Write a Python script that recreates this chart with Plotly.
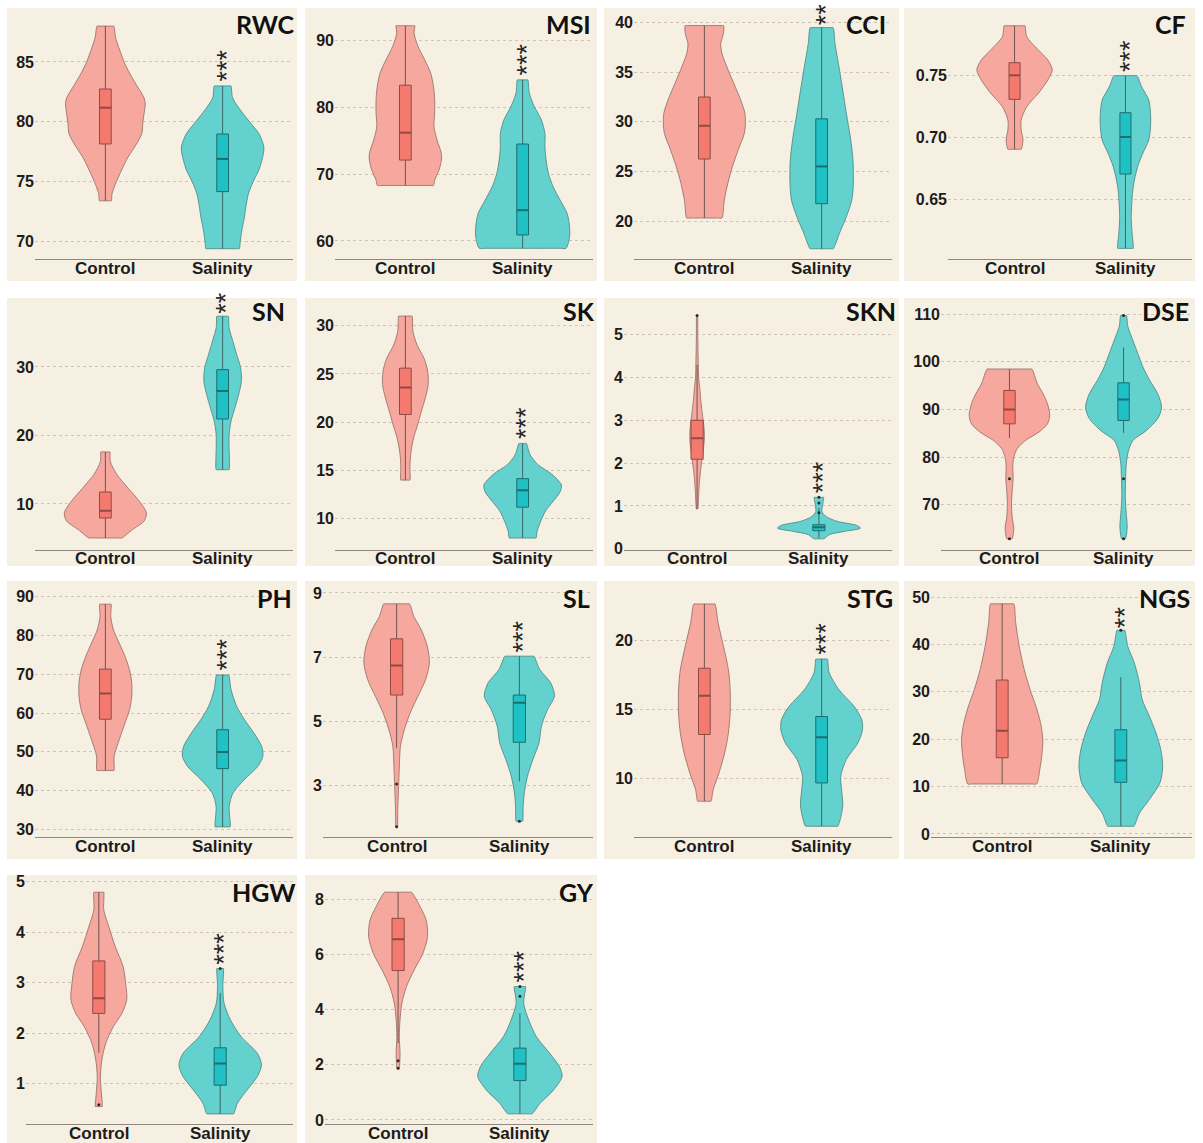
import plotly.graph_objects as go

# ---------------- data ----------------
PANELS = ["RWC", "MSI", "CCI", "CF", "SN", "SK", "SKN", "DSE", "PH", "SL", "STG", "NGS", "HGW", "GY"]
GROUPS = ["Control", "Salinity"]
STARS = [3, 3, 2, 3, 2, 3, 3, 0, 3, 3, 3, 2, 3, 3]

# violin outlines: value levels (top -> bottom) and half-widths (category units)
RWC_C_Y = [88.0, 87, 86, 85, 84, 83, 82, 81.5, 81, 80, 79, 78, 77, 76, 75, 74, 73.4]
RWC_C_W = [0.071, 0.088, 0.122, 0.16, 0.21, 0.27, 0.33, 0.34, 0.335, 0.32, 0.31, 0.256, 0.19, 0.14, 0.094, 0.057, 0.051]
RWC_S_Y = [83.0, 82, 81, 80, 79, 78, 77.5, 77, 76, 75, 74, 73, 72, 71, 70, 69.4]
RWC_S_W = [0.071, 0.085, 0.15, 0.23, 0.31, 0.35, 0.35, 0.34, 0.31, 0.26, 0.22, 0.2, 0.185, 0.165, 0.15, 0.142]

MSI_C_Y = [92.2, 91.1, 89.1, 87.1, 85.1, 83.1, 81.1, 79.1, 77.1, 75.1, 73.1, 72.1, 70.6, 69.1, 68.3]
MSI_C_W = [0.08, 0.074, 0.108, 0.165, 0.216, 0.24, 0.25, 0.25, 0.244, 0.27, 0.307, 0.307, 0.287, 0.25, 0.24]
MSI_S_Y = [84.1, 82.1, 80.1, 78.1, 76.1, 74.1, 72.1, 70.1, 68.1, 66.1, 64.1, 62.1, 60.6, 58.9]
MSI_S_W = [0.045, 0.057, 0.10, 0.16, 0.19, 0.19, 0.2, 0.22, 0.26, 0.32, 0.38, 0.40, 0.40, 0.37]

CCI_C_Y = [39.7, 38.9, 37.9, 36.9, 35.6, 33.9, 32.2, 30.9, 29.8, 28.8, 27.2, 25.5, 23.8, 22.1, 20.3]
CCI_C_W = [0.163, 0.163, 0.14, 0.15, 0.19, 0.25, 0.31, 0.345, 0.35, 0.34, 0.29, 0.24, 0.2, 0.17, 0.15]
CCI_S_Y = [39.5, 37.9, 35.6, 33.2, 30.9, 28.5, 26.2, 23.8, 22.1, 20.4, 18.8, 17.2]
CCI_S_W = [0.098, 0.114, 0.147, 0.18, 0.21, 0.244, 0.267, 0.27, 0.257, 0.21, 0.153, 0.098]

CF_C_Y = [0.7905, 0.7816, 0.7708, 0.7627, 0.7546, 0.7465, 0.7357, 0.7249, 0.7141, 0.706, 0.6978, 0.6903]
CF_C_W = [0.094, 0.11, 0.215, 0.30, 0.34, 0.30, 0.215, 0.11, 0.06, 0.06, 0.076, 0.06]
CF_S_Y = [0.75, 0.741, 0.7303, 0.7195, 0.7086, 0.6978, 0.687, 0.6762, 0.66, 0.6357, 0.6222, 0.61]
CF_S_W = [0.104, 0.146, 0.21, 0.226, 0.226, 0.21, 0.156, 0.11, 0.07, 0.052, 0.06, 0.07]

SN_C_Y = [17.6, 16.2, 14.3, 12.3, 10.4, 8.7, 7.5, 6.25, 5.04]
SN_C_W = [0.039, 0.042, 0.098, 0.195, 0.29, 0.35, 0.33, 0.23, 0.14]
SN_S_Y = [37.4, 35.7, 33.7, 31.8, 29.9, 27.9, 26.0, 24.0, 22.1, 20.1, 18.2, 15.0]
SN_S_W = [0.049, 0.055, 0.088, 0.12, 0.153, 0.16, 0.137, 0.104, 0.072, 0.055, 0.055, 0.055]

SK_C_Y = [31.0, 29.4, 28.0, 26.6, 25.3, 23.9, 22.5, 21.1, 19.7, 18.4, 17.0, 15.6, 14.0]
SK_C_W = [0.057, 0.065, 0.10, 0.16, 0.19, 0.195, 0.17, 0.136, 0.104, 0.071, 0.049, 0.039, 0.039]
SK_S_Y = [17.8, 16.6, 15.6, 14.6, 13.5, 12.8, 11.8, 10.8, 9.7, 8.7, 8.0]
SK_S_W = [0.032, 0.065, 0.13, 0.25, 0.33, 0.32, 0.26, 0.195, 0.153, 0.123, 0.114]

SKN_C_Y = [5.45, 4.92, 4.3, 3.99, 3.75, 3.44, 3.13, 2.82, 2.59, 2.35, 2.04, 1.73, 1.42, 0.93]
SKN_C_W = [0.004, 0.006, 0.01, 0.013, 0.022, 0.031, 0.044, 0.057, 0.06, 0.053, 0.038, 0.025, 0.016, 0.006]
SKN_S_Y = [1.2, 1.03, 0.87, 0.755, 0.64, 0.545, 0.48, 0.405, 0.33, 0.23]
SKN_S_W = [0.039, 0.031, 0.025, 0.057, 0.15, 0.31, 0.34, 0.21, 0.088, 0.04]

DSE_C_Y = [98.5, 95.4, 93.3, 91.2, 88.8, 87.0, 85.3, 83.5, 81.8, 80.0, 77.9, 75.5, 73.0, 70.2, 67.4, 65.0, 62.9]
DSE_C_W = [0.195, 0.245, 0.295, 0.333, 0.353, 0.333, 0.26, 0.14, 0.068, 0.038, 0.029, 0.032, 0.024, 0.018, 0.024, 0.038, 0.024]
DSE_S_Y = [109.7, 107.4, 104.5, 101.7, 98.9, 96.1, 93.3, 90.5, 88.1, 85.6, 83.5, 81.4, 78.6, 75.1, 71.6, 68.1, 65.3, 62.9]
DSE_S_W = [0.026, 0.038, 0.082, 0.126, 0.17, 0.23, 0.30, 0.333, 0.30, 0.2, 0.082, 0.044, 0.024, 0.018, 0.015, 0.024, 0.032, 0.018]

PH_C_Y = [88.0, 84.8, 81.4, 78.0, 74.6, 71.1, 67.7, 64.3, 60.8, 57.4, 53.1, 48.9, 45.2]
PH_C_W = [0.049, 0.046, 0.069, 0.118, 0.167, 0.206, 0.225, 0.225, 0.206, 0.167, 0.118, 0.075, 0.073]
PH_S_Y = [69.8, 66.0, 61.7, 58.3, 54.8, 51.4, 48.9, 46.3, 42.9, 39.4, 36.0, 30.7]
PH_S_W = [0.052, 0.072, 0.12, 0.186, 0.268, 0.333, 0.343, 0.30, 0.186, 0.088, 0.056, 0.064]

SL_C_Y = [8.66, 8.27, 7.86, 7.34, 6.82, 6.3, 5.78, 5.26, 4.74, 4.23, 3.6, 2.98, 2.36, 1.71]
SL_C_W = [0.105, 0.14, 0.2, 0.25, 0.267, 0.236, 0.173, 0.11, 0.063, 0.031, 0.022, 0.016, 0.01, 0.006]
SL_S_Y = [7.03, 6.61, 6.2, 5.78, 5.37, 4.85, 4.33, 3.81, 3.29, 2.77, 2.36, 1.89]
SL_S_W = [0.117, 0.167, 0.255, 0.286, 0.23, 0.18, 0.16, 0.11, 0.066, 0.04, 0.031, 0.027]

STG_C_Y = [22.66, 21.3, 19.6, 17.9, 16.45, 14.76, 13.3, 11.86, 10.4, 9.2, 8.36]
STG_C_W = [0.09, 0.117, 0.163, 0.205, 0.22, 0.22, 0.205, 0.173, 0.124, 0.075, 0.057]
STG_S_Y = [18.67, 17.66, 16.45, 15.24, 14.28, 13.55, 12.6, 11.38, 10.17, 9.2, 8.0, 6.55]
STG_S_W = [0.049, 0.065, 0.147, 0.277, 0.342, 0.348, 0.31, 0.21, 0.163, 0.17, 0.18, 0.137]

NGS_C_Y = [48.6, 44.6, 39.6, 34.7, 30.5, 27.0, 23.5, 19.9, 16.4, 13.6, 10.56]
NGS_C_W = [0.098, 0.114, 0.144, 0.186, 0.235, 0.284, 0.323, 0.343, 0.333, 0.317, 0.29]
NGS_S_Y = [43.0, 39.6, 36.1, 31.9, 28.4, 24.9, 21.3, 17.8, 14.3, 10.8, 7.25, 4.4, 1.62]
NGS_S_W = [0.033, 0.059, 0.114, 0.157, 0.18, 0.24, 0.297, 0.337, 0.353, 0.33, 0.24, 0.157, 0.11]

HGW_C_Y = [4.79, 4.44, 4.11, 3.71, 3.32, 2.92, 2.66, 2.39, 2.13, 1.8, 1.47, 1.14, 0.87, 0.545]
HGW_C_W = [0.041, 0.041, 0.082, 0.136, 0.2, 0.224, 0.23, 0.19, 0.12, 0.057, 0.025, 0.013, 0.019, 0.028]
HGW_S_Y = [3.28, 2.92, 2.59, 2.26, 1.93, 1.6, 1.37, 1.14, 0.87, 0.61, 0.4]
HGW_S_W = [0.027, 0.022, 0.032, 0.085, 0.173, 0.306, 0.34, 0.306, 0.22, 0.142, 0.11]

GY_C_Y = [8.28, 7.76, 7.27, 6.67, 6.06, 5.45, 4.85, 4.24, 3.64, 3.03, 2.42, 1.88]
GY_C_W = [0.11, 0.18, 0.23, 0.242, 0.204, 0.132, 0.069, 0.031, 0.016, 0.01, 0.016, 0.01]
GY_S_Y = [4.85, 4.24, 3.64, 3.03, 2.42, 1.94, 1.58, 1.09, 0.61, 0.22]
GY_S_W = [0.047, 0.031, 0.072, 0.135, 0.245, 0.324, 0.346, 0.277, 0.167, 0.1]

# box statistics per panel (order of PANELS)
CTRL_Q1 = [78.15, 72.1, 26.25, 0.7308, 7.96, 20.8, 2.09, 87.0, 58.4, 5.82, 13.2, 16.1, 2.39, 5.43]
CTRL_MED = [81.18, 76.2, 29.6, 0.7503, 9.03, 23.6, 2.58, 90.0, 65.0, 6.74, 16.0, 21.8, 2.69, 6.57]
CTRL_Q3 = [82.74, 83.3, 32.5, 0.7605, 11.75, 25.6, 3.0, 94.0, 71.3, 7.57, 18.0, 32.5, 3.43, 7.33]
CTRL_LO = [73.4, 68.3, 20.3, 0.6903, 5.04, 14.0, 0.93, 84.0, 45.2, 4.17, 8.36, 10.56, 1.61, 2.79]
CTRL_HI = [88.0, 92.2, 39.7, 0.7905, 17.6, 31.0, 4.3, 98.5, 88.0, 8.66, 22.66, 48.6, 4.79, 8.28]
CTRL_OUT = [[], [], [], [], [], [], [5.45], [75.5, 62.9], [], [3.05, 1.72], [], [], [0.58], [2.15, 1.88]]

SAL_Q1 = [74.17, 60.9, 21.75, 0.6703, 22.4, 11.2, 0.42, 87.7, 45.7, 4.35, 9.69, 10.9, 0.97, 1.43]
SAL_MED = [76.9, 64.6, 25.5, 0.7003, 26.5, 12.94, 0.5, 92.1, 50.0, 5.58, 13.0, 15.5, 1.40, 2.04]
SAL_Q3 = [78.98, 74.5, 30.3, 0.72, 29.6, 14.15, 0.56, 95.6, 55.7, 5.82, 14.5, 22.0, 1.71, 2.61]
SAL_LO = [69.4, 58.9, 17.2, 0.61, 15.0, 8.0, 0.25, 85.1, 30.7, 3.13, 6.55, 1.62, 0.4, 0.22]
SAL_HI = [83.0, 84.1, 39.5, 0.75, 37.4, 17.8, 0.95, 103.0, 69.8, 7.03, 18.67, 33.1, 2.79, 3.88]
SAL_OUT = [[], [], [], [], [], [], [1.2, 1.07, 0.84], [109.7, 75.5, 62.9], [], [1.89], [], [43.0], [3.28], [4.5, 4.85]]

# y-axis ticks and ranges per panel
Y_TICKS = [[70, 75, 80, 85], [60, 70, 80, 90], [20, 25, 30, 35, 40], [0.65, 0.70, 0.75],
           [10, 20, 30], [10, 15, 20, 25, 30], [0, 1, 2, 3, 4, 5], [70, 80, 90, 100, 110],
           [30, 40, 50, 60, 70, 80, 90], [3, 5, 7, 9], [10, 15, 20], [0, 10, 20, 30, 40, 50],
           [1, 2, 3, 4, 5], [0, 2, 4, 6, 8]]
Y_RANGES = [[68.54, 89.09], [57.3, 94.1], [16.17, 40.97], [0.6014, 0.8008],
            [3.33, 40.2], [6.79, 32.97], [-0.023, 5.88], [60.6, 113.6],
            [28.03, 93.7], [1.39, 9.34], [5.75, 24.25], [-0.7, 53.2],
            [0.195, 5.21], [-0.16, 9.05]]

PROFILES = {n: (globals()[n + "_C_Y"], globals()[n + "_C_W"], globals()[n + "_S_Y"], globals()[n + "_S_W"])
            for n in PANELS}

# ---------------- layout geometry (pixels) ----------------
W, H = 1203, 1143
COL_L = [7, 305, 604, 904]
COL_R = [297, 597, 899, 1195]
ROW_T = [8, 298, 581, 875]
ROW_B = [281, 566, 859, 1143]
PLOT_L = [35, 335, 634, 948, 35, 335, 624, 941, 35, 323, 634, 931, 26, 325]
PLOT_R = [293, 593, 892, 1192]
PLOT_T = [13, 297, 582, 871]
PLOT_B = [259, 549.7, 837.3, 1124.3]
TITLE_R = [297, 593, 888, 1188, 287, 597, 898, 1191, 294, 592, 895, 1192, 298, 596]
TITLE_Y = [24, 311, 598, 892]

BG = "#F6F0E3"
C_FILL = ["#F6A89E", "#63D2CF"]
C_BOX = ["#F47A70", "#1FC1C5"]
C_BOXLINE = ["#8E4B45", "#1C6E70"]
C_WHISK = ["#6e5550", "#3b6666"]
C_OUTLINE = ["rgba(150,112,102,0.85)", "rgba(80,135,130,0.85)"]
TICKFONT = dict(family="Liberation Sans, Arial, sans-serif", size=16, color="#1c1c1c", weight="bold")
CATFONT = dict(family="Liberation Sans, Arial, sans-serif", size=17, color="#1c1c1c", weight="bold")
TITLEFONT = dict(family="Lato, Open Sans, sans-serif", size=25, color="#111111", weight="bold")
STARFONT = dict(family="Liberation Sans, Arial", size=27, color="#262626")
BOXW = 0.1


def px2x(p):
    return p / W


def py2y(p):
    return 1 - p / H


def outline(center, ys, ws):
    """Closed violin outline from the read profile (near-duplicate end points keep flat ends crisp)."""
    et, eb = ws[0] * 0.12, ws[-1] * 0.12
    xs = [center + w for w in ws]
    yy = list(ys)
    xs += [center + ws[-1] - eb, center - ws[-1] + eb]
    yy += [ys[-1], ys[-1]]
    xs += [center - w for w in ws[::-1]]
    yy += list(ys[::-1])
    xs += [center - ws[0] + et, center + ws[0] - et, center + ws[0]]
    yy += [ys[0], ys[0], ys[0]]
    return xs, yy


fig = go.Figure()
shapes = []
annotations = []
layout_axes = {}

for i, name in enumerate(PANELS):
    r, c = divmod(i, 4)
    n = i + 1
    xa = "x" if n == 1 else f"x{n}"
    ya = "y" if n == 1 else f"y{n}"
    xkey = "xaxis" if n == 1 else f"xaxis{n}"
    ykey = "yaxis" if n == 1 else f"yaxis{n}"

    # panel background
    shapes.append(dict(type="rect", xref="paper", yref="paper", layer="below",
                       x0=px2x(COL_L[c]), x1=px2x(COL_R[c]), y0=py2y(ROW_B[r]), y1=py2y(ROW_T[r]),
                       fillcolor=BG, line=dict(width=0)))

    layout_axes[xkey] = dict(domain=[px2x(PLOT_L[i]), px2x(PLOT_R[c])], range=[-0.6, 1.6],
                             tickmode="array", tickvals=[0, 1], showticklabels=False, ticks="",
                             showgrid=False, zeroline=False, showline=True, linecolor="#8d8780",
                             linewidth=1, anchor=ya, fixedrange=True)
    yax = dict(domain=[py2y(PLOT_B[r]), py2y(PLOT_T[r])], range=Y_RANGES[i],
               tickmode="array", tickvals=Y_TICKS[i], ticks="", showgrid=True,
               gridcolor="#cdc6b8", griddash="dot", gridwidth=1, zeroline=False,
               showline=False, tickfont=TICKFONT, anchor=xa, fixedrange=True)
    if name == "CF":
        yax["tickformat"] = ".2f"
    layout_axes[ykey] = yax

    # category labels under the axis line
    for g, lab in enumerate(GROUPS):
        annotations.append(dict(x=g, xref=xa, y=py2y(PLOT_B[r] + 9), yref="paper", text=lab,
                                showarrow=False, xanchor="center", yanchor="middle", font=CATFONT))

    cy, cw, sy, sw = PROFILES[name]
    prof = [(cy, cw), (sy, sw)]
    q1 = [CTRL_Q1[i], SAL_Q1[i]]
    med = [CTRL_MED[i], SAL_MED[i]]
    q3 = [CTRL_Q3[i], SAL_Q3[i]]
    lo = [CTRL_LO[i], SAL_LO[i]]
    hi = [CTRL_HI[i], SAL_HI[i]]
    outs = [CTRL_OUT[i], SAL_OUT[i]]

    for g in range(2):
        ys, ws = prof[g]
        xs, yy = outline(g, ys, ws)
        common = dict(xaxis=xa, yaxis=ya, hoverinfo="skip", showlegend=False)
        # violin body
        fig.add_trace(go.Scatter(x=xs, y=yy, mode="lines", fill="toself", fillcolor=C_FILL[g],
                                 line=dict(color=C_OUTLINE[g], width=1, shape="spline", smoothing=0.8),
                                 **common))
        # whisker (min..max)
        fig.add_trace(go.Scatter(x=[g, g], y=[lo[g], hi[g]], mode="lines",
                                 line=dict(color=C_WHISK[g], width=1), **common))
        # interquartile box
        bx = [g - BOXW / 2, g + BOXW / 2, g + BOXW / 2, g - BOXW / 2, g - BOXW / 2]
        by = [q1[g], q1[g], q3[g], q3[g], q1[g]]
        fig.add_trace(go.Scatter(x=bx, y=by, mode="lines", fill="toself", fillcolor=C_BOX[g],
                                 line=dict(color=C_BOXLINE[g], width=1), **common))
        # median
        fig.add_trace(go.Scatter(x=[g - BOXW / 2, g + BOXW / 2], y=[med[g], med[g]], mode="lines",
                                 line=dict(color=C_BOXLINE[g], width=2), **common))
        if outs[g]:
            fig.add_trace(go.Scatter(x=[g] * len(outs[g]), y=outs[g], mode="markers",
                                     marker=dict(color="#2a2a2a", size=3), **common))

    # significance stars above the Salinity violin (rotated text, stacked vertically)
    if STARS[i]:
        annotations.append(dict(x=1, y=max(sy), xref=xa, yref=ya, text="*" * STARS[i],
                                textangle=-90, showarrow=False, xanchor="center", yanchor="bottom",
                                xshift=4, yshift=1 if STARS[i] == 2 else 3, borderpad=0,
                                font=STARFONT))

    # panel title
    annotations.append(dict(x=px2x(TITLE_R[i]), y=py2y(TITLE_Y[r]), xref="paper", yref="paper",
                            text=name, showarrow=False, xanchor="right", yanchor="middle",
                            font=TITLEFONT))

fig.update_layout(width=W, height=H, margin=dict(l=0, r=0, t=0, b=0, pad=0),
                  paper_bgcolor="white", plot_bgcolor="rgba(0,0,0,0)", template="none",
                  showlegend=False, shapes=shapes, annotations=annotations,
                  **layout_axes)

fig.write_html("out.html", config={"displayModeBar": False},
               post_script="document.body.style.margin='0';")
